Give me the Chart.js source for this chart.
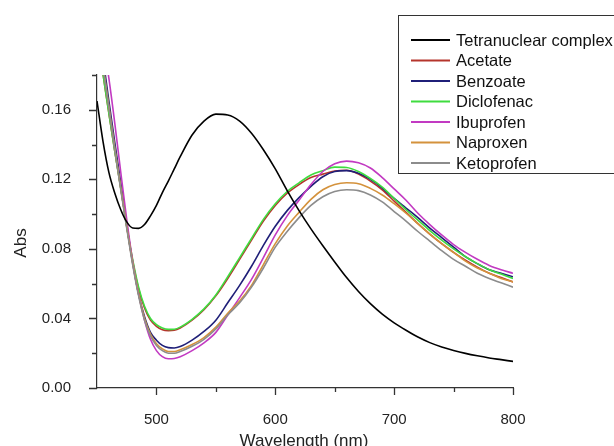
<!DOCTYPE html>
<html>
<head>
<meta charset="utf-8">
<script src="https://cdn.jsdelivr.net/npm/chart.js@4/dist/chart.umd.min.js"></script>
<style>
  html, body { margin: 0; padding: 0; background: #ffffff; }
  #wrap { width: 614px; height: 446px; position: relative; }
</style>
</head>
<body>
<div id="wrap"><canvas id="c" width="614" height="446"></canvas></div>
<script>
// ---- data ----
const wavelengths = [450,455,460,465,470,475,480,485,490,495,500,505,510,515,520,530,540,550,560,570,580,590,600,610,620,630,640,650,660,670,680,690,700,710,720,730,740,750,760,770,780,790,800];

const tetranuclear = [0.165,0.142,0.124,0.112,0.1025,0.0955,0.092,0.0918,0.094,0.099,0.105,0.1124,0.119,0.126,0.133,0.1455,0.1535,0.1575,0.1570,0.1535,0.1465,0.137,0.126,0.1135,0.102,0.0915,0.0818,0.0725,0.0635,0.0555,0.0485,0.0425,0.0375,0.0332,0.0293,0.0261,0.0236,0.0216,0.0199,0.0185,0.0173,0.0163,0.0153];
const acetate = [0.207,0.181,0.158,0.136,0.115,0.093,0.073,0.057,0.046,0.039,0.0355,0.0335,0.033,0.0332,0.0345,0.039,0.045,0.053,0.063,0.074,0.085,0.096,0.105,0.112,0.117,0.121,0.123,0.1248,0.1252,0.123,0.119,0.114,0.1075,0.101,0.0945,0.0885,0.083,0.078,0.0735,0.0695,0.066,0.0635,0.061];
const benzoate = [0.214,0.19,0.165,0.141,0.118,0.094,0.072,0.054,0.041,0.032,0.0275,0.0245,0.0232,0.023,0.0238,0.0275,0.0325,0.039,0.049,0.059,0.070,0.082,0.093,0.102,0.1095,0.116,0.1215,0.1245,0.125,0.1235,0.120,0.115,0.109,0.1035,0.098,0.092,0.0865,0.081,0.0755,0.0715,0.068,0.066,0.064];
const diclofenac = [0.207,0.181,0.158,0.136,0.115,0.093,0.074,0.058,0.047,0.040,0.0365,0.0345,0.0337,0.0338,0.035,0.0395,0.0455,0.0535,0.064,0.075,0.086,0.097,0.106,0.113,0.118,0.1225,0.125,0.127,0.1268,0.1245,0.1205,0.1155,0.109,0.1025,0.0965,0.0905,0.085,0.080,0.0755,0.0715,0.068,0.0655,0.063];
const ibuprofen = [0.222,0.20,0.178,0.152,0.124,0.097,0.073,0.054,0.039,0.028,0.0215,0.018,0.0168,0.017,0.018,0.0215,0.026,0.032,0.042,0.052,0.0625,0.075,0.088,0.099,0.108,0.117,0.1245,0.129,0.1305,0.1295,0.1265,0.121,0.1145,0.108,0.1005,0.094,0.088,0.0825,0.078,0.074,0.0705,0.068,0.066];
const naproxen = [0.21,0.186,0.162,0.138,0.115,0.093,0.072,0.054,0.040,0.031,0.0255,0.0225,0.021,0.021,0.022,0.025,0.029,0.035,0.043,0.050,0.059,0.071,0.083,0.093,0.101,0.1085,0.114,0.117,0.118,0.1175,0.1148,0.111,0.106,0.1005,0.0945,0.0885,0.083,0.078,0.073,0.069,0.066,0.063,0.061];
const ketoprofen = [0.21,0.185,0.161,0.137,0.114,0.092,0.071,0.053,0.039,0.030,0.0245,0.0215,0.020,0.020,0.021,0.024,0.028,0.034,0.042,0.049,0.058,0.069,0.081,0.090,0.098,0.105,0.110,0.113,0.114,0.1135,0.111,0.107,0.1015,0.096,0.090,0.0845,0.079,0.074,0.070,0.066,0.063,0.0605,0.058];

const seriesNames = ['Tetranuclear complex','Acetate','Benzoate','Diclofenac','Ibuprofen','Naproxen','Ketoprofen'];
const seriesValues = [tetranuclear, acetate, benzoate, diclofenac, ibuprofen, naproxen, ketoprofen];
const seriesColors = ['#000000','#b5352c','#1f1f78','#3fdc3f','#c23ac2','#d4923c','#8c8c8c'];

const xMajorTicks = [500, 600, 700, 800];
const xMinorTicks = [550, 650, 750];
const yMajorTicks = [0, 0.04, 0.08, 0.12, 0.16];
const yMinorTicks = [0.02, 0.06, 0.10, 0.14, 0.18];
const xTitle = 'Wavelength (nm)';
const yTitle = 'Abs';

// ---- chart ----
const FONT = '"Liberation Sans", Arial, sans-serif';

const datasets = seriesNames.map((name, i) => ({
  label: name,
  data: wavelengths.map((w, k) => ({ x: w, y: seriesValues[i][k] })),
  borderColor: seriesColors[i],
  backgroundColor: seriesColors[i],
  borderWidth: 1.6,
  pointRadius: 0,
  fill: false,
  cubicInterpolationMode: 'monotone',
  order: i === 0 ? 0 : 7 - i
}));

const decorPlugin = {
  id: 'decor',
  afterDraw(chart) {
    const ctx = chart.ctx;
    const xs = chart.scales.x, ys = chart.scales.y, a = chart.chartArea;
    ctx.save();
    ctx.strokeStyle = '#333333';
    ctx.lineWidth = 1.3;
    ctx.beginPath();
    xMajorTicks.forEach(v => { const px = Math.round(xs.getPixelForValue(v)) + 0.5; ctx.moveTo(px, a.bottom); ctx.lineTo(px, a.bottom + 7); });
    xMinorTicks.forEach(v => { const px = Math.round(xs.getPixelForValue(v)) + 0.5; ctx.moveTo(px, a.bottom); ctx.lineTo(px, a.bottom + 4); });
    yMajorTicks.forEach(v => { const py = Math.round(ys.getPixelForValue(v)) + 0.5; ctx.moveTo(a.left, py); ctx.lineTo(a.left - 8, py); });
    yMinorTicks.forEach(v => { const py = Math.round(ys.getPixelForValue(v)) + 0.5; ctx.moveTo(a.left, py); ctx.lineTo(a.left - 5, py); });
    ctx.stroke();

    // axis titles
    ctx.fillStyle = '#222222';
    ctx.font = '17px ' + FONT;
    ctx.textAlign = 'center';
    ctx.textBaseline = 'middle';
    ctx.fillText(xTitle, (a.left + a.right) / 2 - 1, 441);
    ctx.save();
    ctx.translate(21, 243);
    ctx.rotate(-Math.PI / 2);
    ctx.fillText(yTitle, 0, 0);
    ctx.restore();

    // legend box
    const bx = 398.5, by = 15.5, bw = 230, bh = 158;
    ctx.fillStyle = '#ffffff';
    ctx.fillRect(bx, by, bw, bh);
    ctx.strokeStyle = '#333333';
    ctx.lineWidth = 1;
    ctx.strokeRect(bx, by, bw, bh);
    ctx.font = '16.5px ' + FONT;
    ctx.textAlign = 'left';
    ctx.textBaseline = 'middle';
    chart.data.datasets.forEach((ds, i) => {
      const ry = 40 + i * 20.5;
      ctx.strokeStyle = ds.borderColor;
      ctx.lineWidth = 1.8;
      ctx.beginPath();
      ctx.moveTo(411, ry);
      ctx.lineTo(450, ry);
      ctx.stroke();
      ctx.fillStyle = '#111111';
      ctx.fillText(ds.label, 456, ry + 1);
    });
    ctx.restore();
  }
};

new Chart(document.getElementById('c'), {
  type: 'line',
  data: { datasets },
  options: {
    responsive: false,
    animation: false,
    layout: { padding: { top: 75, right: 101, left: 0, bottom: 0 } },
    plugins: { legend: { display: false }, tooltip: { enabled: false }, title: { display: false } },
    scales: {
      x: {
        type: 'linear',
        min: 450, max: 800,
        afterFit(scale) { scale.height = 58; },
        grid: { display: false, drawTicks: false, tickLength: 0 },
        border: { display: true, color: '#333333', width: 1.2 },
        ticks: {
          stepSize: 50,
          autoSkip: false,
          maxRotation: 0,
          padding: 23,
          color: '#222222',
          font: { family: FONT, size: 15 },
          callback: (v) => (xMajorTicks.includes(v) ? String(v) : '')
        }
      },
      y: {
        type: 'linear',
        min: 0, max: 0.18,
        afterFit(scale) { scale.width = 97; },
        grid: { display: false, drawTicks: false, tickLength: 0 },
        border: { display: true, color: '#333333', width: 1.2 },
        ticks: {
          stepSize: 0.02,
          autoSkip: false,
          padding: 26,
          color: '#222222',
          font: { family: FONT, size: 15 },
          callback: (v) => (yMajorTicks.some(t => Math.abs(t - v) < 1e-9) ? v.toFixed(2) : '')
        }
      }
    }
  },
  plugins: [decorPlugin]
});
</script>
</body>
</html>
